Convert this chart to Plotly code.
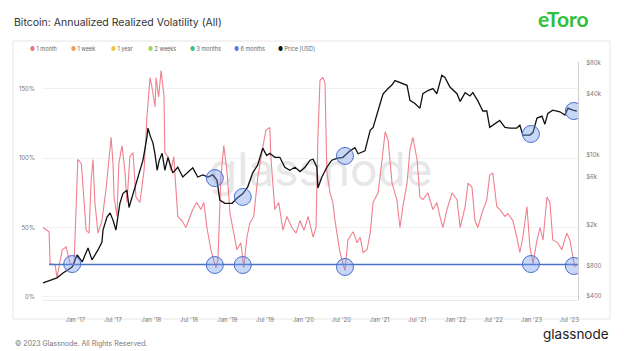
import math
import plotly.graph_objects as go

# ---------------- data ----------------
vol_dates = ["2016-07-30","2016-08-28","2016-09-02","2016-09-26","2016-10-05","2016-10-30","2016-11-18","2016-12-07","2016-12-26",
 "2017-01-13","2017-01-30","2017-02-08","2017-02-22","2017-03-08","2017-03-18","2017-03-27","2017-04-05","2017-04-20","2017-05-09",
 "2017-05-28","2017-06-22","2017-07-01","2017-07-06","2017-07-20","2017-07-29","2017-08-13","2017-08-27","2017-09-06","2017-09-20",
 "2017-10-05","2017-10-19","2017-11-07","2017-11-27","2017-12-11","2017-12-26","2018-01-04","2018-01-19","2018-01-24","2018-02-05",
 "2018-02-17","2018-03-03","2018-03-07","2018-03-22","2018-04-05","2018-04-19","2018-05-08","2018-05-28","2018-06-16","2018-07-05",
 "2018-07-19","2018-08-07","2018-08-27","2018-09-10","2018-09-25","2018-10-14","2018-10-23","2018-11-07","2018-11-17","2018-12-01",
 "2018-12-15","2018-12-30","2019-01-14","2019-01-28","2019-02-16","2019-03-07","2019-03-21","2019-04-05","2019-04-19","2019-05-08",
 "2019-05-27","2019-06-16","2019-07-05","2019-07-24","2019-07-29","2019-08-17","2019-09-05","2019-09-25","2019-10-14","2019-11-07",
 "2019-11-27","2019-12-16","2020-01-04","2020-01-24","2020-02-17","2020-03-02","2020-03-11","2020-03-21","2020-04-04","2020-04-14",
 "2020-04-23","2020-05-08","2020-05-22","2020-06-01","2020-06-25","2020-07-19","2020-08-02","2020-08-27","2020-09-15","2020-09-30",
 "2020-10-14","2020-11-02","2020-11-17","2020-12-01","2020-12-25","2021-01-13","2021-01-28","2021-02-11","2021-03-02","2021-03-25",
 "2021-04-09","2021-04-23","2021-05-13","2021-05-27","2021-06-10","2021-06-30","2021-07-14","2021-07-28","2021-08-21","2021-09-14",
 "2021-10-03","2021-10-18","2021-11-01","2021-11-21","2021-12-15","2022-01-08","2022-01-23","2022-02-16","2022-03-02","2022-03-21",
 "2022-04-04","2022-04-18","2022-05-07","2022-05-31","2022-06-14","2022-06-29","2022-07-18","2022-08-01","2022-08-26","2022-09-09",
 "2022-10-03","2022-10-22","2022-11-06","2022-11-20","2022-12-10","2022-12-24","2023-01-08","2023-01-27","2023-02-11","2023-02-25",
 "2023-03-16","2023-03-30","2023-04-13","2023-05-07","2023-05-26","2023-06-19","2023-07-04","2023-07-18","2023-07-27","2023-08-06"]
vol_1month = [50,47,24,23,14,34,36,24,23,
 99,96,79,48,46,84,99,68,46,55,
 77,115,96,72,58,96,109,91,68,101,
 104,72,68,91,130,158,151,137,158,144,
 163,144,104,101,91,101,58,55,50,58,
 63,68,63,68,50,34,29,21,27,86,
 109,91,60,48,34,39,21,43,53,58,
 86,104,120,122,101,63,68,48,58,50,
 46,55,48,58,43,50,115,156,158,154,
 90,75,68,55,32,19,41,47,39,43,
 32,34,46,68,75,99,119,113,82,70,
 50,65,82,106,115,99,72,70,75,63,
 68,58,50,63,75,70,50,65,82,79,
 55,50,60,70,88,89,65,63,58,60,
 55,43,32,43,65,36,24,41,50,41,
 72,68,41,39,34,46,41,29,22,23]

price_dates = ["2016-07-30","2016-10-05","2016-11-03","2016-12-17","2017-01-10","2017-02-03","2017-03-03","2017-03-22","2017-04-20",
 "2017-05-09","2017-05-14","2017-06-02","2017-06-17","2017-07-01","2017-07-15","2017-08-03","2017-08-18","2017-09-06","2017-09-16",
 "2017-10-05","2017-10-24","2017-11-07","2017-11-22","2017-12-11","2017-12-16","2017-12-26","2018-01-09","2018-01-19","2018-01-29",
 "2018-02-08","2018-02-22","2018-03-07","2018-03-22","2018-04-14","2018-05-08","2018-06-01","2018-06-25","2018-07-19","2018-08-12",
 "2018-09-05","2018-09-30","2018-10-23","2018-11-12","2018-11-26","2018-12-20","2019-01-24","2019-02-16","2019-03-16","2019-04-09",
 "2019-05-03","2019-05-27","2019-06-20","2019-07-09","2019-07-24","2019-08-17","2019-09-10","2019-10-04","2019-10-28","2019-11-22",
 "2019-12-16","2020-01-09","2020-02-02","2020-02-17","2020-03-06","2020-03-11","2020-03-30","2020-04-23","2020-05-17","2020-06-10",
 "2020-07-09","2020-08-12","2020-09-05","2020-09-20","2020-10-23","2020-11-17","2020-12-01","2021-01-04","2021-01-18","2021-02-11",
 "2021-03-02","2021-03-16","2021-04-09","2021-05-13","2021-05-27","2021-06-20","2021-07-14","2021-07-28","2021-08-21","2021-09-14",
 "2021-10-03","2021-10-27","2021-11-11","2021-12-05","2022-01-08","2022-01-23","2022-02-16","2022-03-11","2022-03-25","2022-04-18",
 "2022-05-12","2022-05-31","2022-06-14","2022-06-29","2022-08-01","2022-08-26","2022-09-19","2022-10-22","2022-11-06","2022-11-20",
 "2022-12-24","2023-01-08","2023-01-27","2023-02-20","2023-03-06","2023-03-20","2023-04-13","2023-05-17","2023-06-10","2023-06-25",
 "2023-07-18","2023-08-06"]
price_usd = [540,604,676,774,1018,869,1194,910,1140,
 1367,1795,2414,2650,2250,1795,3300,4140,4440,3000,
 4140,5600,7000,8830,14900,18300,15500,13000,10000,7000,
 8800,10300,7000,9400,6600,7500,6000,6600,7400,6000,
 6300,6000,6300,5600,3550,3300,3300,3700,4100,4800,
 6600,7900,11600,9800,10300,9400,9400,7500,7000,7500,
 6800,7500,8800,9000,7500,4670,6000,7500,8800,9200,
 9400,10900,11700,10200,10900,17400,18600,32000,40000,45000,
 49000,54000,52000,48500,34400,32000,28800,40000,43000,45000,
 40000,61000,58000,46600,40000,33600,41000,38000,41000,34000,
 27000,27000,18600,19500,21800,18600,18300,18300,19500,15600,
 15600,16600,23000,24000,20000,25600,27500,26500,24600,28800,
 27500,27000]

# horizontal reference level (left axis, %)
threshold_start = "2016-08-28"
threshold_end = "2023-08-12"
threshold_level = 23.4

# highlighted spots
vol_circle_dates = ["2016-12-17", "2018-11-02", "2019-03-16", "2020-07-19", "2022-12-29", "2023-07-23"]
vol_circle_levels = [23.7, 23.0, 23.0, 21.6, 23.7, 22.3]
price_circle_dates = ["2018-11-02", "2019-03-16", "2020-07-19", "2022-12-29", "2023-07-23"]
price_circle_levels = [5860, 3810, 9700, 16000, 27000]

x_tick_vals = ["2017-01-01","2017-07-01","2018-01-01","2018-07-01","2019-01-01","2019-07-01","2020-01-01",
               "2020-07-01","2021-01-01","2021-07-01","2022-01-01","2022-07-01","2023-01-01","2023-07-01"]
x_tick_text = ["Jan '17","Jul '17","Jan '18","Jul '18","Jan '19","Jul '19","Jan '20",
               "Jul '20","Jan '21","Jul '21","Jan '22","Jul '22","Jan '23","Jul '23"]
left_ticks = [0, 50, 100, 150]
left_tick_text = ["0%", "50%", "100%", "150%"]
right_ticks = [400, 800, 2000, 6000, 10000, 40000, 80000]
right_tick_text = ["$400", "$800", "$2k", "$6k", "$10k", "$40k", "$80k"]

legend_names = ["1 month", "1 week", "1 year", "2 weeks", "3 months", "6 months", "Price [USD]"]
legend_colors = ["#ec7584", "#f0a052", "#efc843", "#a6d45e", "#3dbf86", "#5b78df", "#111111"]

# axis ranges
X_RANGE = ["2016-07-25", "2023-08-12"]
Y1_RANGE = [-2.2, 169.2]
Y2_RANGE = [2.562, 4.916]  # log10 of USD

def price_to_left(p):
    """Map a price on the right (log) axis onto the left axis scale."""
    f = (math.log10(p) - Y2_RANGE[0]) / (Y2_RANGE[1] - Y2_RANGE[0])
    return Y1_RANGE[0] + f * (Y1_RANGE[1] - Y1_RANGE[0])

# ---------------- figure ----------------
W, H = 624, 351
L, R, T, B = 42, 46, 62, 51
pw, ph = W - L - R, H - T - B

def px(xp):  # pixel -> paper x
    return (xp - L) / pw

def py(yp):  # pixel -> paper y
    return (H - B - yp) / ph

FONT = "Inter"
fig = go.Figure()

# watermark (drawn first, under the lines)
fig.add_trace(go.Scatter(x=["2020-03-25"], y=[88], mode="text", text=["glassnode"],
                         textfont=dict(family=FONT, size=46, color="#e7e7e7"),
                         hoverinfo="skip", showlegend=False, yaxis="y"))

fig.add_trace(go.Scatter(x=vol_dates, y=vol_1month, mode="lines", name="1 month",
                         line=dict(color="#f0808e", width=1.1), yaxis="y", showlegend=False))
fig.add_trace(go.Scatter(x=price_dates, y=price_usd, mode="lines", name="Price [USD]",
                         line=dict(color="#111111", width=1.3), yaxis="y2", showlegend=False))

shapes = []
# panel frame
shapes.append(dict(type="rect", xref="paper", yref="paper", x0=px(13), x1=px(610), y0=py(319), y1=py(41),
                   line=dict(color="#e6e6e6", width=1), fillcolor="rgba(0,0,0,0)", layer="below"))
# threshold line
shapes.append(dict(type="line", xref="x", yref="y", x0=threshold_start, x1=threshold_end,
                   y0=threshold_level, y1=threshold_level,
                   line=dict(color="#4a72c8", width=1.6), layer="above"))

r = 8.5
circle_style = dict(line=dict(color="#4a6fcf", width=1), fillcolor="rgba(110,150,230,0.38)", layer="above")
circle_pts = list(zip(vol_circle_dates, vol_circle_levels)) + \
             [(d, price_to_left(p)) for d, p in zip(price_circle_dates, price_circle_levels)]
for d, v in circle_pts:
    shapes.append(dict(type="circle", xref="x", yref="y", xsizemode="pixel", ysizemode="pixel",
                       xanchor=d, yanchor=v, x0=-r, x1=r, y0=-r, y1=r, **circle_style))

annotations = []
annotations.append(dict(text="Bitcoin: Annualized Realized Volatility (All)", xref="paper", yref="paper",
                        x=px(12), y=py(23), xanchor="left", yanchor="middle", showarrow=False,
                        font=dict(family=FONT, size=10.5, color="#333333")))
legend_x = [28, 69, 109, 146, 188, 232, 276]
for name, col, lx in zip(legend_names, legend_colors, legend_x):
    annotations.append(dict(text=f'<span style="color:{col}">●</span> {name}', xref="paper", yref="paper",
                            x=px(lx), y=py(49), xanchor="left", yanchor="middle", showarrow=False,
                            font=dict(family=FONT, size=5.5, color="#666666")))
annotations.append(dict(text="<b>eToro</b>", xref="paper", yref="paper", x=px(563), y=py(19),
                        xanchor="center", yanchor="middle", showarrow=False,
                        font=dict(family="Lato", size=21, color="#2fc13a")))
annotations.append(dict(text="© 2023 Glassnode. All Rights Reserved.", xref="paper", yref="paper",
                        x=px(13), y=py(343), xanchor="left", yanchor="middle", showarrow=False,
                        font=dict(family=FONT, size=7, color="#777777")))
annotations.append(dict(text="glassnode", xref="paper", yref="paper", x=px(611), y=py(334),
                        xanchor="right", yanchor="middle", showarrow=False,
                        font=dict(family=FONT, size=13.5, color="#222222")))

fig.update_layout(
    width=W, height=H, margin=dict(l=L, r=R, t=T, b=B),
    paper_bgcolor="white", plot_bgcolor="white",
    showlegend=False,
    xaxis=dict(type="date", range=X_RANGE, tickvals=x_tick_vals, ticktext=x_tick_text,
               showgrid=False, showline=True, linecolor="#ececec", linewidth=1,
               ticks="outside", ticklen=14, tickcolor="rgba(0,0,0,0)",
               tickfont=dict(family=FONT, size=6, color="#777777"), zeroline=False),
    yaxis=dict(range=Y1_RANGE, tickvals=left_ticks, ticktext=left_tick_text,
               showgrid=True, gridcolor="#f1f1f1", gridwidth=1, zeroline=False,
               ticks="outside", ticklen=5, tickcolor="rgba(0,0,0,0)",
               tickfont=dict(family=FONT, size=6, color="#777777")),
    yaxis2=dict(type="log", range=Y2_RANGE, overlaying="y", side="right",
                tickvals=right_ticks, ticktext=right_tick_text, showgrid=False, zeroline=False,
                showline=True, linecolor="#cfcfcf", linewidth=1,
                ticks="outside", ticklen=6, tickcolor="rgba(0,0,0,0)",
                tickfont=dict(family=FONT, size=6, color="#777777")),
    shapes=shapes, annotations=annotations,
)

fig.write_html("out.html")
